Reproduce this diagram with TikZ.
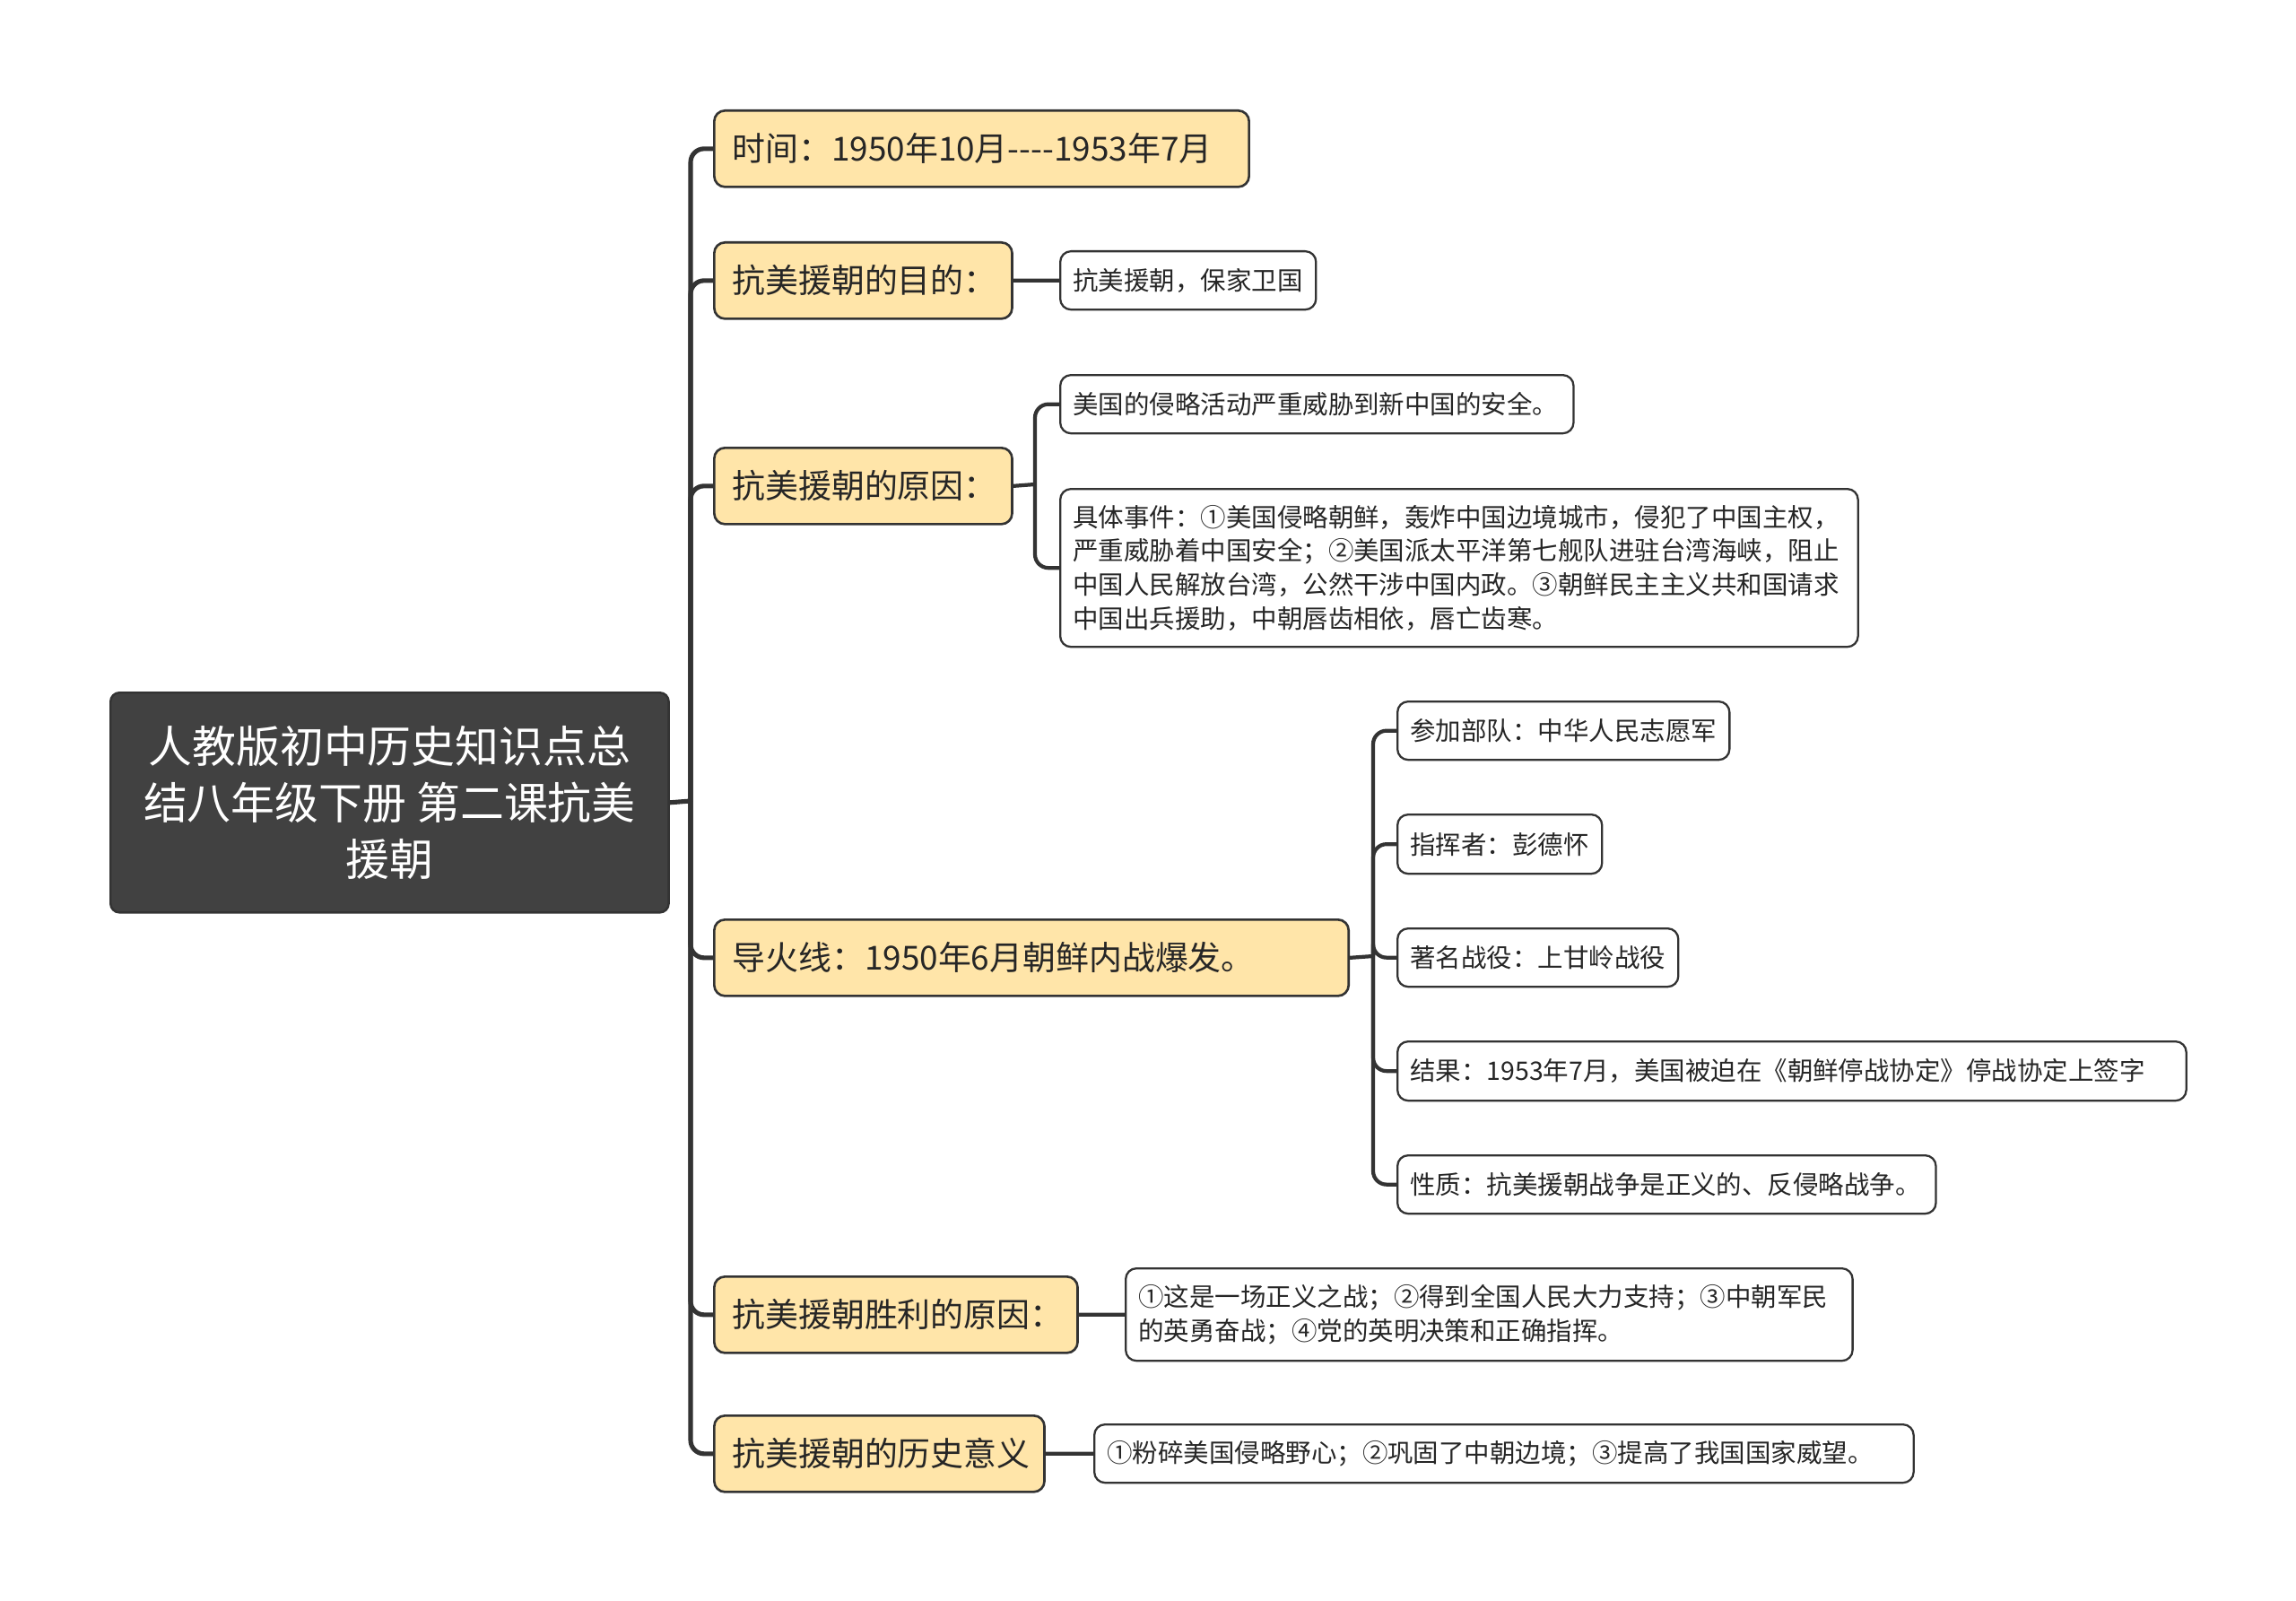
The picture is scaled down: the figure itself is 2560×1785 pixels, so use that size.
\documentclass[tikz,border=0pt]{standalone}
\usepackage{fontspec}
\setmainfont{Noto Sans CJK SC}
\definecolor{yel}{HTML}{FFE5A9}
\definecolor{dk}{HTML}{333333}
\definecolor{txt}{HTML}{262626}
\definecolor{rootc}{HTML}{414141}
\tikzset{
 rootbox/.style={draw=dk, fill=rootc, line width=0.7pt, rounded corners=0.1cm, text=white, align=center, font=\fontsize{13.9}{17.9}\selectfont, inner sep=0pt, anchor=north west},
 l1box/.style={draw=dk, fill=yel, line width=0.75pt, rounded corners=0.12cm, text=txt, align=left, font=\fontsize{10.5}{12.6}\selectfont, inner xsep=0.2cm, inner ysep=0pt, anchor=north west},
 l2box/.style={draw=dk, fill=white, line width=0.65pt, rounded corners=0.12cm, text=txt, align=left, font=\fontsize{8.1}{10.7}\selectfont, inner xsep=0.14cm, inner ysep=0pt, anchor=north west},
 conn/.style={draw=dk, line width=1.2pt, rounded corners=0.15cm},
 trunkline/.style={draw=dk, line width=1.45pt, rounded corners=0.15cm},
}
\begin{document}
\begin{tikzpicture}[x=0.01cm,y=-0.01cm]
\useasboundingbox (0,0) rectangle (2560,1785);
% root
\node[rootbox, minimum width=6.22cm, minimum height=2.45cm] (root) at (122,771) {人教版初中历史知识点总\\结八年级下册 第二课抗美\\援朝};
% level 1
\node[l1box, minimum width=5.96cm, minimum height=0.85cm, text width=5.56cm] (n1) at (795,122) {时间：1950年10月{-}{-}{-}{-}1953年7月};
\node[l1box, minimum width=3.32cm, minimum height=0.85cm, text width=2.92cm] (n2) at (795,269) {抗美援朝的目的：};
\node[l1box, minimum width=3.32cm, minimum height=0.85cm, text width=2.92cm] (n3) at (795,498) {抗美援朝的原因：};
\node[l1box, minimum width=7.07cm, minimum height=0.85cm, text width=6.67cm] (n4) at (795,1024) {导火线：1950年6月朝鲜内战爆发。};
\node[l1box, minimum width=4.05cm, minimum height=0.85cm, text width=3.65cm] (n5) at (795,1422) {抗美援朝胜利的原因：};
\node[l1box, minimum width=3.68cm, minimum height=0.85cm, text width=3.28cm] (n6) at (795,1577) {抗美援朝的历史意义};
% level 2
\node[l2box, minimum width=2.85cm, minimum height=0.65cm, text width=2.57cm] (a) at (1181,279) {抗美援朝，保家卫国};
\node[l2box, minimum width=5.72cm, minimum height=0.65cm, text width=5.44cm] (b) at (1181,417) {美国的侵略活动严重威胁到新中国的安全。};
\node[l2box, minimum width=8.89cm, minimum height=1.76cm, text width=8.61cm] (c) at (1181,544) {具体事件：①美国侵略朝鲜，轰炸中国边境城市，侵犯了中国主权，\\严重威胁着中国安全；②美国派太平洋第七舰队进驻台湾海峡，阻止\\中国人民解放台湾，公然干涉中国内政。③朝鲜民主主义共和国请求\\中国出兵援助，中朝唇齿相依，唇亡齿寒。};
\node[l2box, minimum width=3.70cm, minimum height=0.65cm, text width=3.42cm] (d) at (1557,781) {参加部队：中华人民志愿军};
\node[l2box, minimum width=2.28cm, minimum height=0.66cm, text width=2.00cm] (e) at (1557,907) {指挥者：彭德怀};
\node[l2box, minimum width=3.13cm, minimum height=0.65cm, text width=2.85cm] (f) at (1557,1034) {著名战役：上甘岭战役};
\node[l2box, minimum width=8.79cm, minimum height=0.66cm, text width=8.51cm] (g) at (1557,1160) {结果：1953年7月，美国被迫在《朝鲜停战协定》停战协定上签字};
\node[l2box, minimum width=6.00cm, minimum height=0.65cm, text width=5.72cm] (h) at (1557,1287) {性质：抗美援朝战争是正义的、反侵略战争。};
\node[l2box, minimum width=8.10cm, minimum height=1.03cm, text width=7.82cm] (i) at (1254,1413) {①这是一场正义之战；②得到全国人民大力支持；③中朝军民\\的英勇奋战；④党的英明决策和正确指挥。};
\node[l2box, minimum width=9.13cm, minimum height=0.65cm, text width=8.85cm] (j) at (1219,1587) {①粉碎美国侵略野心；②巩固了中朝边境；③提高了我国国家威望。};
% trunk
\coordinate (trunk) at (770,893);
\draw[trunkline] (root.east) -- (trunk);
\foreach \n in {n1,n2,n3,n4,n5,n6} {\draw[trunkline] (trunk) |- (\n.west);}
% branches
\draw[conn] (n2.east) -- (a.west);
\coordinate (b3) at (1154,540);
\draw[conn] (n3.east) -- (b3);
\draw[conn] (b3) |- (b.west);
\draw[conn] (b3) |- (c.west);
\coordinate (b4) at (1531,1066);
\draw[conn] (n4.east) -- (b4);
\foreach \m in {d,e,f,g,h} {\draw[conn] (b4) |- (\m.west);}
\draw[conn] (n5.east) -- (i.west);
\draw[conn] (n6.east) -- (j.west);
\end{tikzpicture}
\end{document}
